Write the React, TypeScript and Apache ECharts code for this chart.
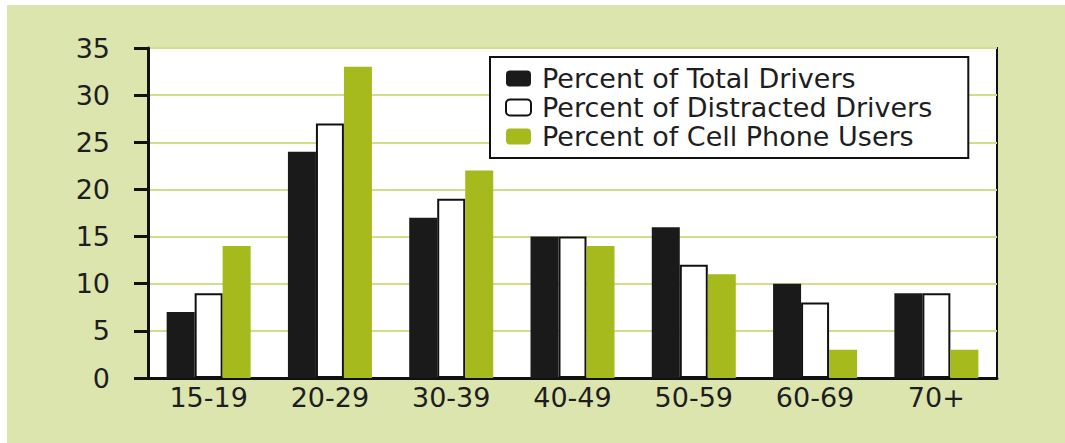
import React, { useEffect, useRef } from "react";
import * as echarts from "echarts";

const categories = ["15-19", "20-29", "30-39", "40-49", "50-59", "60-69", "70+"];
const totalDrivers = [7, 24, 17, 15, 16, 10, 9];
const distractedDrivers = [9, 27, 19, 15, 12, 8, 9];
const cellPhoneUsers = [14, 33, 22, 14, 11, 3, 3];
const seriesNames = [
  "Percent of Total Drivers",
  "Percent of Distracted Drivers",
  "Percent of Cell Phone Users",
];

const FONT = "DejaVu Sans";

export default function App() {
  const ref = useRef<HTMLDivElement>(null);
  useEffect(() => {
    if (!ref.current) return;
    const chart = echarts.init(ref.current, null, { renderer: "svg" });
    chart.setOption({
      animation: false,
      backgroundColor: "#ffffff",
      graphic: [
        {
          type: "rect",
          z: -1,
          silent: true,
          shape: { x: 7, y: 5, width: 1058, height: 438 },
          style: { fill: "#dde5af" },
        },
      ],
      grid: {
        left: 148,
        top: 48,
        right: 68,
        bottom: 65,
        show: true,
        backgroundColor: "#ffffff",
        borderColor: "#111111",
        borderWidth: 2,
      },
      legend: {
        orient: "vertical",
        left: 490,
        top: 57,
        backgroundColor: "#ffffff",
        borderColor: "#111111",
        borderWidth: 2,
        padding: [7, 36, 7, 15],
        itemWidth: 25,
        itemHeight: 16,
        itemGap: 0,
        textStyle: {
          fontFamily: FONT,
          fontSize: 27,
          lineHeight: 29,
          color: "#1e1e1e",
          padding: [0, 0, 0, 6],
        },
        data: seriesNames,
      },
      xAxis: {
        type: "category",
        data: categories,
        axisLine: { show: true, lineStyle: { color: "#111111", width: 3 } },
        axisTick: { show: false },
        axisLabel: {
          fontFamily: FONT,
          fontSize: 27,
          color: "#1e1e1e",
          margin: 6,
        },
      },
      yAxis: {
        type: "value",
        min: 0,
        max: 35,
        interval: 5,
        axisLine: { show: true, lineStyle: { color: "#111111", width: 3 } },
        axisTick: { show: true, length: 14, lineStyle: { color: "#111111", width: 3 } },
        axisLabel: {
          fontFamily: FONT,
          fontSize: 27,
          color: "#1e1e1e",
          margin: 38,
        },
        splitLine: { show: true, lineStyle: { color: "#d2de8c", width: 2 } },
      },
      series: [
        {
          name: seriesNames[0],
          type: "bar",
          data: totalDrivers,
          barWidth: 28,
          barGap: "0%",
          itemStyle: { color: "#1a1a1a" },
        },
        {
          name: seriesNames[1],
          type: "bar",
          data: distractedDrivers,
          barWidth: 28,
          barGap: "0%",
          itemStyle: { color: "#ffffff", borderColor: "#111111", borderWidth: 2 },
        },
        {
          name: seriesNames[2],
          type: "bar",
          data: cellPhoneUsers,
          barWidth: 28,
          barGap: "0%",
          itemStyle: { color: "#a6ba1e" },
        },
      ],
    });
    return () => chart.dispose();
  }, []);
  return (
    <div
      ref={ref}
      style={{ position: "absolute", left: 0, top: 0, width: 1065, height: 443 }}
    />
  );
}
